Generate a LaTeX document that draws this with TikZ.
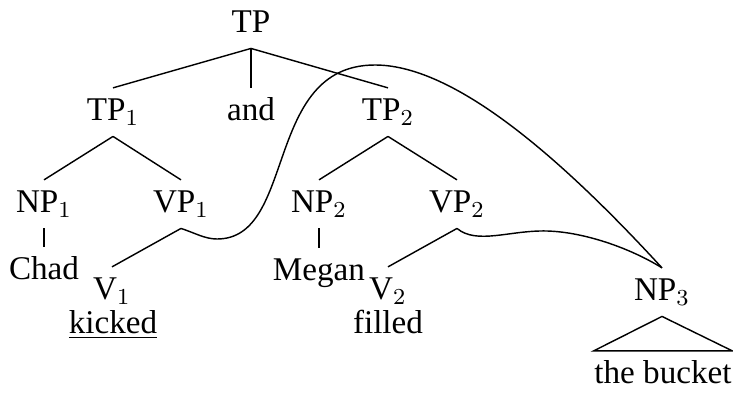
\documentclass[tikz,border=0pt]{standalone}
\usepackage{fontspec}
\setmainfont{Liberation Serif}
\begin{document}
\begin{tikzpicture}[x=0.35pt,y=-0.35pt,line width=0.5pt,
   every node/.style={font=\fontsize{11.6}{13}\selectfont},
   cat/.style={inner xsep=0pt,inner ysep=4pt,text height=7pt,text depth=1.5pt}]
   \useasboundingbox (0,0) rectangle (733,393);
   % tree nodes
   \node [cat,anchor=base] (tp) at (251,32) {TP};
   \node [cat,anchor=base] (tp1) at (113,120) {TP$_1$};
   \node [cat,anchor=base] (and) at (251,120) {and};
   \node [cat,anchor=base] (tp2) at (388,120) {TP$_2$};
   \node [cat,anchor=base] (np1) at (44,212) {NP$_1$};
   \node [cat,anchor=base] (vp1) at (181,212) {VP$_1$};
   \node [cat,anchor=base] (np2) at (319,212) {NP$_2$};
   \node [cat,anchor=base] (vp2) at (457,212) {VP$_2$};
   \node [cat,anchor=base] (chad) at (44,279) {Chad};
   \node [cat,anchor=base] (megan) at (319,280) {Megan};
   \node [cat,anchor=base] (v1) at (112,299) {V$_1$};
   \node [cat,anchor=base] (v2) at (388,299) {V$_2$};
   \node [cat,anchor=base] (kicked) at (113,333) {\underline{kicked}};
   \node [cat,anchor=base] (filled) at (388,333) {filled};
   \node [cat,anchor=base] (np3) at (662,300) {NP$_3$};
   \node [cat,anchor=base] (bucket) at (663,383) {the bucket};
   % branches
   \draw (tp.south) -- (tp1.north);
   \draw (tp.south) -- (and.north);
   \draw (tp.south) -- (tp2.north);
   \draw (tp1.south) -- (np1.north);
   \draw (tp1.south) -- (vp1.north);
   \draw (tp2.south) -- (np2.north);
   \draw (tp2.south) -- (vp2.north);
   \draw (np1.south) -- (chad.north);
   \draw (np2.south) -- (megan.north);
   \draw (vp1.south) -- (v1.north);
   \draw (vp2.south) -- (v2.north);
   \draw (np3.south) -- (bucket.north west) -- (bucket.north east) -- cycle;
   % movement curves
   \draw (vp1.south) .. controls (195,233) and (205,239) .. (217,239)
    .. controls (297,239) and (263,65) .. (375,65)
    .. controls (455,65) and (562,159) .. (np3.north);
   \draw (vp2.south) .. controls (477,245) and (510,230) .. (547,231)
    .. controls (584,232) and (630,248) .. (np3.north);
\end{tikzpicture}
\end{document}
